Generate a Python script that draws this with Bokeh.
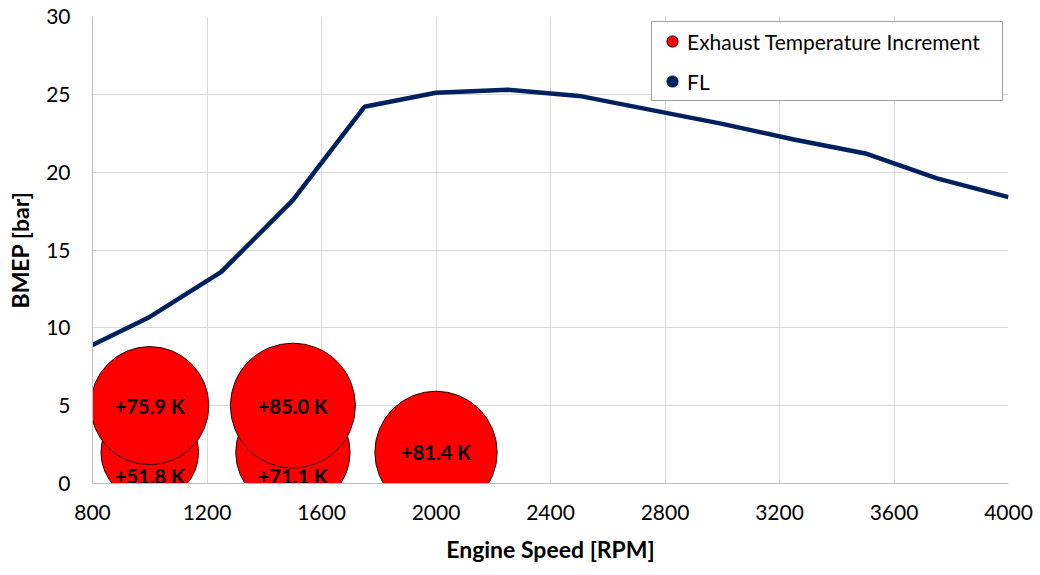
import numpy as np
from bokeh.plotting import figure
from bokeh.models import ColumnDataSource, FixedTicker, Legend, LegendItem
from bokeh.core.properties import value
from bokeh.embed import file_html
from bokeh.resources import INLINE

# ---- data ----
fl_rpm = [800, 1000, 1250, 1500, 1750, 2000, 2250, 2500, 2750, 3000, 3250, 3500, 3750, 4000]
fl_bmep = [8.9, 10.7, 13.6, 18.2, 24.2, 25.1, 25.3, 24.9, 24.0, 23.1, 22.1, 21.2, 19.6, 18.4]

bub_rpm = [1000, 1500, 2000, 1000, 1500]
bub_bmep = [2, 2, 2, 5, 5]
bub_dT = [51.8, 71.1, 81.4, 75.9, 85.0]

x_ticks = [800, 1200, 1600, 2000, 2400, 2800, 3200, 3600, 4000]
y_ticks = [0, 5, 10, 15, 20, 25, 30]

# ---- styles ----
FONT = "Lato"
BUBBLE_DIAM_MAX = 125.0          # px diameter of the largest bubble (area scaling)
label_dy = [24, 24, 0, 0, 0]     # px downward shift of each bubble label

sizes = [BUBBLE_DIAM_MAX * np.sqrt(v / max(bub_dT)) for v in bub_dT]
bsrc = ColumnDataSource(dict(
    x=bub_rpm, y=bub_bmep, size=sizes,
    label=[f"+{v:.1f} K" for v in bub_dT], dy=label_dy,
))
lsrc = ColumnDataSource(dict(x=fl_rpm, y=fl_bmep))

p = figure(
    frame_width=916, frame_height=467,
    x_range=(800, 4000), y_range=(0, 30),
    output_backend="svg", toolbar_location=None,
    min_border_left=92, min_border_top=16, min_border_right=32, min_border_bottom=60,
    background_fill_color="white", border_fill_color="white",
)
p.outline_line_color = None

# grid
p.xgrid.ticker = FixedTicker(ticks=x_ticks)
p.ygrid.ticker = FixedTicker(ticks=y_ticks)
for g in (p.xgrid, p.ygrid):
    g.grid_line_color = "#d9d9d9"
    g.grid_line_width = 1

# axes
p.xaxis.ticker = FixedTicker(ticks=x_ticks)
p.yaxis.ticker = FixedTicker(ticks=y_ticks)
p.xaxis.axis_label = "Engine Speed [RPM]"
p.yaxis.axis_label = "BMEP [bar]"
for ax in (p.xaxis, p.yaxis):
    ax.axis_line_color = "#bfbfbf"
    ax.axis_line_width = 1
    ax.major_tick_line_color = None
    ax.minor_tick_line_color = None
    ax.major_tick_out = 0
    ax.major_tick_in = 0
    ax.major_label_text_font = FONT
    ax.major_label_text_font_size = "21px"
    ax.major_label_text_color = "#000000"
    ax.axis_label_text_font = FONT
    ax.axis_label_text_font_size = "23px"
    ax.axis_label_text_font_style = "bold"
    ax.axis_label_text_color = "#000000"
p.xaxis.major_label_standoff = 21
p.xaxis.axis_label_standoff = 12
p.yaxis.major_label_standoff = 22
p.yaxis.axis_label_standoff = 9

# full-load line
line_r = p.line("x", "y", source=lsrc, line_color="#002060", line_width=4.5)

# bubbles
bub_r = p.scatter("x", "y", source=bsrc, size="size", marker="circle",
                  fill_color="#ff0000", line_color="#2b0000", line_width=1)
p.text("x", "y", text="label", source=bsrc, y_offset="dy",
       text_align="center", text_baseline="middle",
       text_font=value(FONT), text_font_size="20px", text_font_style="bold",
       text_color="#000000")

# legend proxy for FL (dot), not drawn in the plot
fl_dot = p.scatter(x=[np.nan], y=[np.nan], marker="circle", size=10,
                   fill_color="#002060", line_color="#002060")

legend = Legend(items=[
    LegendItem(label="Exhaust Temperature Increment", renderers=[bub_r]),
    LegendItem(label="FL", renderers=[fl_dot]),
])
legend.location = "top_right"
legend.margin = 5
legend.padding = 5
legend.spacing = 12
legend.glyph_width = 30
legend.glyph_height = 28
legend.label_height = 28
legend.label_standoff = 0
legend.label_width = 310
legend.label_text_font = FONT
legend.label_text_font_size = "21px"
legend.label_text_color = "#000000"
legend.border_line_color = "#404040"
legend.border_line_width = 1
legend.background_fill_color = "white"
legend.background_fill_alpha = 1
p.add_layout(legend, "center")

open("out.html", "w").write(file_html(p, INLINE))
